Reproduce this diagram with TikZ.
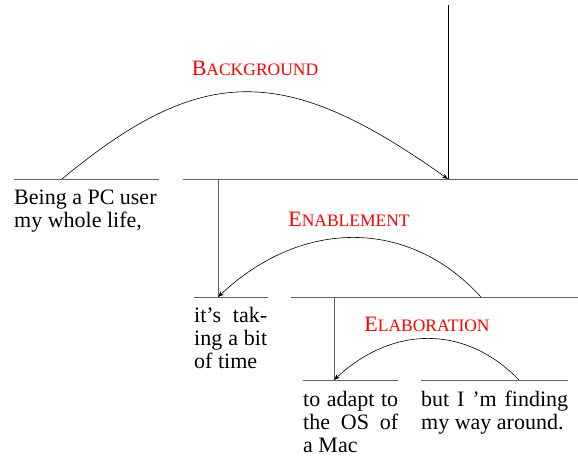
\documentclass[tikz,border=0pt]{standalone}
\usepackage{fontspec}
\setmainfont{Liberation Serif}
\newfontfamily\lsfont{Liberation Serif}
\usetikzlibrary{arrows.meta}
\newcommand\fakesc[2]{#1{\fontsize{17.5}{17.5}\selectfont #2}}
\newcommand\jl[2]{\makebox[#1][s]{#2}}
\tikzset{
  spanline/.style={draw=black!62, line width=0.9pt},
  relarc/.style={draw=black, line width=0.6pt, -{Stealth[length=6pt,width=4.5pt]}},
  rellabel/.style={text=red, anchor=base, inner sep=0pt, font=\lsfont\fontsize{22}{23}\selectfont},
  leaftext/.style={anchor=north west, inner sep=0pt, align=left, font=\lsfont\fontsize{22}{23}\selectfont}
}
\begin{document}
\begin{tikzpicture}[x=1pt, y=-1pt]
\useasboundingbox (0,0) rectangle (578,455);
% coordinates
\coordinate (l1a) at (14,179);  \coordinate (l1b) at (159,179);
\coordinate (s1a) at (183,179); \coordinate (s1b) at (578,179);
\coordinate (l2a) at (194,297); \coordinate (l2b) at (268,297);
\coordinate (s2a) at (291,297); \coordinate (s2b) at (578,297);
\coordinate (l3a) at (303,380); \coordinate (l3b) at (398,380);
\coordinate (l4a) at (421,380); \coordinate (l4b) at (568,380);
\coordinate (top) at (448,5);   \coordinate (v1) at (448,179);
\coordinate (v2t) at (218,179); \coordinate (v2b) at (218,297);
\coordinate (v3t) at (334,297); \coordinate (v3b) at (334,380);
\coordinate (bgs) at (62,179);
\coordinate (ens) at (481,297);
\coordinate (els) at (519,380);
% lines
\draw[spanline] (l1a) -- (l1b);
\draw[spanline] (s1a) -- (s1b);
\draw[spanline] (l2a) -- (l2b);
\draw[spanline] (s2a) -- (s2b);
\draw[spanline] (l3a) -- (l3b);
\draw[spanline] (l4a) -- (l4b);
\draw[draw=black, line width=0.9pt] (top) -- (v1);
\draw[spanline] (v2t) -- (v2b);
\draw[spanline] (v3t) -- (v3b);
% arcs
\draw[relarc] (bgs) .. controls (202,63) and (285,63) .. (v1);
\draw[relarc] (ens) .. controls (409,218) and (302,218) .. (v2b);
\draw[relarc] (els) .. controls (466,325) and (393,325) .. (v3b);
% labels
\node[rellabel] (bgl) at (255,75) {\fakesc{B}{ACKGROUND}};
\node[rellabel] (enl) at (349,226) {\fakesc{E}{NABLEMENT}};
\node[rellabel] (ell) at (427,331) {\fakesc{E}{LABORATION}};
% leaf texts
\node[leaftext] (t1) at (14,190) {Being a PC user\\my whole life,};
\node[leaftext] (t2) at (194,307) {\jl{73pt}{it’s tak-}\\\jl{73pt}{ing a bit}\\of time};
\node[leaftext] (t3) at (303,391) {\jl{95pt}{to adapt to}\\\jl{95pt}{the OS of}\\a Mac};
\node[leaftext] (t4) at (421,391) {\jl{147pt}{but I ’m finding}\\my way around.};
\end{tikzpicture}
\end{document}
